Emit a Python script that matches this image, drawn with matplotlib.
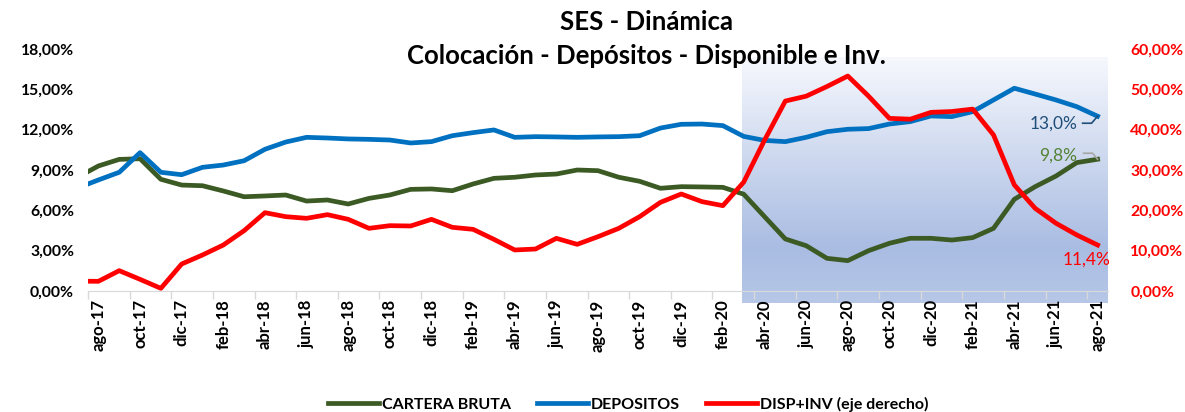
import numpy as np
import matplotlib
matplotlib.use('Agg')
import matplotlib.pyplot as plt
from matplotlib.colors import LinearSegmentedColormap
from matplotlib.lines import Line2D

plt.rcParams['font.family'] = ['Lato', 'DejaVu Sans']
plt.rcParams['font.weight'] = 'bold'

# monthly series, jul-17 .. ago-21 (jul-17 only shows as the clipped start of the lines)
meses = ['jul-17', 'ago-17', 'sep-17', 'oct-17', 'nov-17', 'dic-17',
         'ene-18', 'feb-18', 'mar-18', 'abr-18', 'may-18', 'jun-18', 'jul-18', 'ago-18', 'sep-18', 'oct-18', 'nov-18', 'dic-18',
         'ene-19', 'feb-19', 'mar-19', 'abr-19', 'may-19', 'jun-19', 'jul-19', 'ago-19', 'sep-19', 'oct-19', 'nov-19', 'dic-19',
         'ene-20', 'feb-20', 'mar-20', 'abr-20', 'may-20', 'jun-20', 'jul-20', 'ago-20', 'sep-20', 'oct-20', 'nov-20', 'dic-20',
         'ene-21', 'feb-21', 'mar-21', 'abr-21', 'may-21', 'jun-21', 'jul-21', 'ago-21']

cartera = [8.46, 9.30, 9.79, 9.84, 8.31, 7.88, 7.83, 7.44, 7.01, 7.07, 7.14, 6.69, 6.77, 6.47, 6.89, 7.14, 7.56,
           7.59, 7.46, 7.96, 8.38, 8.46, 8.63, 8.70, 9.00, 8.95, 8.46, 8.16, 7.64, 7.76, 7.74, 7.71, 7.20,
           5.53, 3.87, 3.37, 2.43, 2.26, 3.00, 3.55, 3.92, 3.92, 3.79, 3.97, 4.66, 6.82, 7.76, 8.55, 9.55, 9.80]
depositos = [7.66, 8.26, 8.83, 10.29, 8.83, 8.65, 9.20, 9.37, 9.69, 10.54, 11.08, 11.43, 11.38, 11.31, 11.28, 11.23, 11.01,
             11.11, 11.55, 11.78, 11.98, 11.43, 11.48, 11.46, 11.43, 11.46, 11.48, 11.55, 12.12, 12.40, 12.42, 12.30, 11.50,
             11.20, 11.11, 11.43, 11.85, 12.03, 12.08, 12.42, 12.60, 13.02, 12.97, 13.34, 14.21, 15.08, 14.65, 14.21, 13.71, 13.00]
disp_inv = [2.45, 2.40, 5.04, 2.89, 0.66, 6.69, 8.93, 11.40, 14.96, 19.42, 18.43, 18.02, 18.93, 17.77, 15.54, 16.20, 16.12,
            17.77, 15.79, 15.29, 12.81, 10.17, 10.41, 13.06, 11.57, 13.47, 15.54, 18.43, 21.98, 24.05, 22.15, 21.16, 27.00,
            37.40, 47.10, 48.30, 50.70, 53.30, 48.30, 42.80, 42.60, 44.30, 44.50, 45.10, 38.70, 26.30, 20.50, 16.80, 13.90, 11.40]

c_green = '#3b5a24'
c_blue = '#0070c0'
c_red = '#ff0000'

x = np.arange(len(meses)) - 1   # ago-17 -> 0

fig = plt.figure(figsize=(11.85, 4.12), dpi=100)
ax = fig.add_axes([88/1185, 1-291/412, (1108-88)/1185, (291-49)/412])
ax2 = ax.twinx()

# shaded pandemic period (gradient)
cmap = LinearSegmentedColormap.from_list('sh', [(0, '#f6f8fd'), (0.78, '#a9bce2'), (1, '#b6c7e7')])
grad = np.linspace(0, 1, 256).reshape(-1, 1)
ax.imshow(grad, cmap=cmap, aspect='auto', extent=(30.93, 48.5, -0.9, 17.33),
          origin='upper', zorder=0, clip_on=False)

l1, = ax.plot(x, cartera, color=c_green, lw=3.4, solid_joinstyle='round', zorder=3)
l2, = ax.plot(x, depositos, color=c_blue, lw=3.4, solid_joinstyle='round', zorder=3)
l3, = ax2.plot(x, disp_inv, color=c_red, lw=3.4, solid_joinstyle='round', zorder=3)

ax.set_xlim(-0.5, 48.5)
ax.set_ylim(0, 18)
ax2.set_ylim(0, 60)
ax.set_yticks(np.arange(0, 18.1, 3))
ax.set_yticklabels([('%.2f%%' % v).replace('.', ',') for v in np.arange(0, 18.1, 3)])
ax2.set_yticks(np.arange(0, 60.1, 10))
ax2.set_yticklabels([('%.2f%%' % v).replace('.', ',') for v in np.arange(0, 60.1, 10)])

ax.set_xticks(x[1::2])
ax.set_xticklabels(meses[1::2], rotation=90)
ax.set_xticks(np.arange(-0.5, 48.5, 2), minor=True)
ax.tick_params(axis='x', which='major', length=0, pad=6, labelsize=12)
ax.tick_params(axis='x', which='minor', length=6, color='#d9d9d9', width=1)
ax.tick_params(axis='y', length=0, pad=10, labelsize=11.3)
ax2.tick_params(axis='y', length=0, pad=16, labelsize=11.3, labelcolor=c_red)

for a in (ax, ax2):
    for s in ['top', 'left', 'right']:
        a.spines[s].set_visible(False)
ax.spines['bottom'].set_color('#d9d9d9')
ax2.spines['bottom'].set_visible(False)
ax.set_zorder(1)
ax2.set_zorder(2)

# data labels with small leader lines (pixel offsets from last point)
def etiqueta(axis, xv, yv, txt, col, dx, dy, leader, lcol):
    px, py = axis.transData.transform((xv, yv))
    axis.annotate(txt, (xv, yv), xytext=(dx, dy), textcoords='offset pixels',
                  ha='right', va='center', color=col, fontsize=12.5, fontweight='normal')
    if leader:
        pts = [(px + ox, py + oy) for ox, oy in leader]
        pts = fig.transFigure.inverted().transform(pts)
        fig.add_artist(Line2D(pts[:, 0], pts[:, 1], transform=fig.transFigure, color=lcol, lw=1.2))

etiqueta(ax, 48, depositos[-1], '13,0%', '#1f4e79', -20, -7, [(-15, -7), (-6, -7), (0, 0)], '#1f4e79')
etiqueta(ax, 48, cartera[-1], '9,8%', '#548235', -20, 4, [(-14, 6), (-5, 6), (0, 0)], '#a6a6a6')
etiqueta(ax2, 48, disp_inv[-1], '11,4%', c_red, 13, -15, None, None)

fig.text(646/1185, 1-22/412, 'SES - Dinámica', ha='center', va='center', fontsize=18.5)
fig.text(646/1185, 1-56/412, 'Colocación - Depósitos - Disponible e Inv.', ha='center', va='center', fontsize=18.5)

fig.legend([l1, l2, l3], ['CARTERA BRUTA', 'DEPOSITOS', 'DISP+INV (eje derecho)'],
           loc='center', bbox_to_anchor=(628/1185, 1-404/412), ncol=3, frameon=False,
           fontsize=11.5, handlelength=3.2, handletextpad=0.2, columnspacing=1.6)

fig.savefig('out.png', dpi=100)
